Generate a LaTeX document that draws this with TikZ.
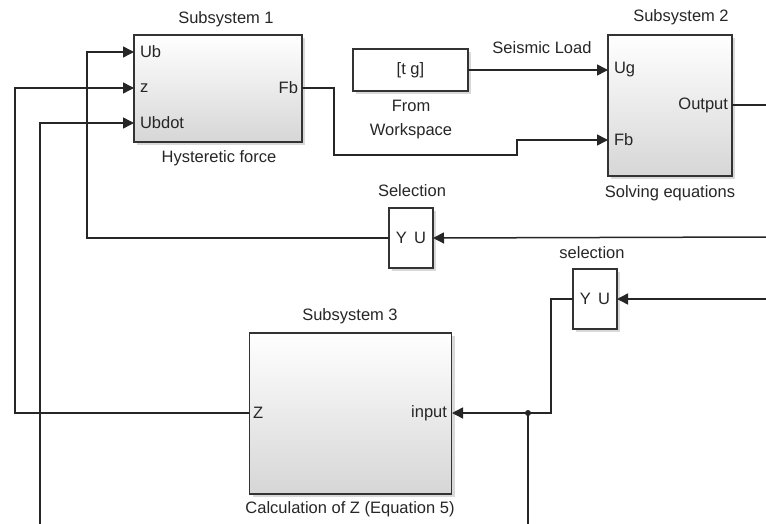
\documentclass[tikz,border=0pt]{standalone}
\usepackage{fontspec}
\setmainfont{Liberation Sans}
\usetikzlibrary{arrows.meta,shadows}
\begin{document}
\begin{tikzpicture}[x=1pt,y=-1pt,every node/.style={font=\fontsize{16.5}{24}\selectfont, text=black!85, inner sep=0pt, outer sep=0pt},
  sub/.style={draw=black!80, line width=1.6pt, top color=white, bottom color=black!16, drop shadow={shadow xshift=3pt, shadow yshift=-3pt, opacity=0.3}},
  blk/.style={draw=black!80, line width=1.6pt, fill=white, drop shadow={shadow xshift=3pt, shadow yshift=-3pt, opacity=0.3}},
  wire/.style={line width=1.5pt, draw=black!85},
  sig/.style={wire, -{Triangle[length=11pt,width=11pt]}}]
\useasboundingbox (0,0) rectangle (766,524);
\node[sub, minimum width=168pt, minimum height=107pt] (sub1) at (218,88.5) {};
\node[sub, minimum width=124pt, minimum height=141pt] (sub2) at (670,105.5) {};
\node[sub, minimum width=202pt, minimum height=161pt] (sub3) at (350.5,413.5) {};
\node[blk, minimum width=115pt, minimum height=42pt] (from) at (410.5,70) {[t g]};
\node[blk, minimum width=44pt, minimum height=60pt] (sel1) at (411,238) {Y\, U};
\node[blk, minimum width=44pt, minimum height=60pt] (sel2) at (595,299) {Y\, U};
\node (t1) at (226,19) {Subsystem 1};
\node (t2) at (681,17) {Subsystem 2};
\node (t3) at (350,316) {Subsystem 3};
\node (n1) at (219,158) {Hysteretic force};
\node (n2) at (670,193) {Solving equations};
\node (n3) at (350,509) {Calculation of Z (Equation 5)};
\node[align=center] (nfrom) at (411,120) {From\\Workspace};
\node (nsel1) at (412,191) {Selection};
\node (nsel2) at (592,253) {selection};
\node (nseis) at (542,48) {Seismic Load};
\node[anchor=west] (pub) at (140,52) {Ub};
\node[anchor=west] (pz) at (140,88) {z};
\node[anchor=west] (pubdot) at (140,123) {Ubdot};
\node[anchor=east] (pfb) at (298,88) {Fb};
\node[anchor=west] (pug) at (614,70) {Ug};
\node[anchor=west] (pfb2) at (614,140) {Fb};
\node[anchor=east] (pout) at (728,105) {Output};
\node[anchor=west] (pZ) at (253,413) {Z};
\node[anchor=east] (pin) at (447,413) {input};
\coordinate (s1ub) at (134,52);
\coordinate (s1z) at (134,88);
\coordinate (s1ubdot) at (134,123);
\coordinate (s1fb) at (302,88);
\coordinate (s2ug) at (608,70);
\coordinate (s2fb) at (608,140);
\coordinate (s2out) at (732,105);
\coordinate (s3z) at (249,413);
\coordinate (s3in) at (452,413);
\coordinate (outR) at (766,105);
\coordinate (in1) at (766,237);
\coordinate (in2) at (766,299);
\coordinate (jn) at (528,413);
\coordinate (bot1) at (40,524);
\coordinate (bot2) at (528,524);
\draw[sig] (s1fb) -- ++(32,0) |- (517,155) |- (s2fb);
\draw[sig] (from.east) -- (s2ug);
\draw[wire] (s2out) -- (outR);
\draw[sig] (in1) -- (sel1.east);
\draw[sig] (sel1.west) -| (87,52) -- (s1ub);
\draw[sig] (in2) -- (sel2.east);
\draw[sig] (sel2.west) -- ++(-22,0) |- (s3in);
\draw[wire] (jn) -- (bot2);
\fill[black!85] (jn) circle (3pt);
\draw[sig] (s3z) -| (15,88) -- (s1z);
\draw[sig] (bot1) |- (s1ubdot);
\end{tikzpicture}
\end{document}
